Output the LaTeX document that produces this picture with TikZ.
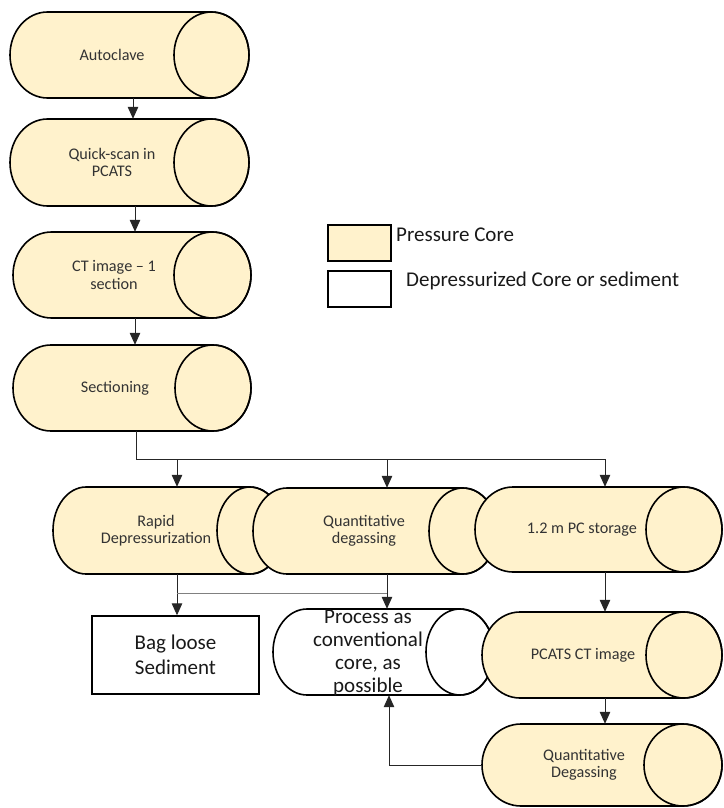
\documentclass[tikz,border=0pt]{standalone}
\usepackage{fontspec}
\setmainfont{Carlito}
\usetikzlibrary{arrows.meta}
\definecolor{core}{HTML}{FFF2CC}
\definecolor{inktext}{HTML}{333333}

\tikzset{
  cylline/.style={line width=1.6pt, draw=black},
  conn/.style={line width=1pt, draw=black!85},
  arr/.style={conn, -{Triangle[width=10.5pt,length=12pt]}},
  smalltext/.style={align=center, text=inktext, inner sep=0pt,
    font=\fontsize{16.2}{17.5}\selectfont},
  bigtext/.style={align=center, text=black!90, inner sep=0pt,
    font=\fontsize{21}{24}\selectfont},
}

% horizontal core cylinder: name, left, right, top, bottom, end radius, fill, text x, text
\newcommand\corecyl[9]{%
  \pgfmathsetmacro\cyA{#2+#6}%
  \pgfmathsetmacro\cyE{#3-#6}%
  \pgfmathsetmacro\cyM{(#4+#5)/2}%
  \pgfmathsetmacro\cyR{(#5-#4)/2}%
  \pgfmathsetmacro\cyW{#3-#2}%
  \pgfmathsetmacro\cyH{#5-#4}%
  \pgfmathsetmacro\cyC{(#2+#3)/2}%
  \filldraw[cylline, fill=#7] (\cyA,-#4) -- (\cyE,-#4)
    arc[start angle=90, end angle=-90, x radius=#6, y radius=\cyR]
    -- (\cyA,-#5)
    arc[start angle=270, end angle=90, x radius=#6, y radius=\cyR] -- cycle;
  \draw[cylline] (\cyE,-\cyM) ellipse[x radius=#6, y radius=\cyR];
  \node[inner sep=0pt, minimum width=\cyW pt, minimum height=\cyH pt] (#1) at (\cyC,-\cyM) {};
  \node[smalltext] (#1-label) at (#8,-\cyM) {#9};
}

\begin{document}
\begin{tikzpicture}[x=1pt, y=1pt]
\useasboundingbox (0,0) rectangle (723,-808);

% main column
\corecyl{ac}{10}{249}{12}{98}{37.5}{core}{112}{Autoclave}
\corecyl{qs}{10}{249}{119}{206}{37.5}{core}{112}{Quick-scan in\\PCATS}
\corecyl{ct}{13}{251}{232}{318}{38.5}{core}{114}{CT image -- 1\\section}
\corecyl{sec}{13}{251}{345}{431}{38}{core}{115}{Sectioning}

% branch row
\corecyl{rd}{53}{283}{487}{574}{33}{core}{156}{Rapid\\Depressurization}
\corecyl{qd}{253}{497}{488}{574}{34}{core}{364}{Quantitative\\degassing}
\corecyl{pcs}{475}{722}{487}{572}{38}{core}{582}{1.2 m PC storage}

% lower row
\corecyl{proc}{273}{494}{609}{695}{34}{white}{368}{}
\node[bigtext, font=\fontsize{21}{23}\selectfont] (proc-text) at (368,-653) {Process as\\conventional\\core, as\\possible};
\corecyl{pcat}{482}{722}{612}{698}{38}{core}{583}{PCATS CT image}
\corecyl{qdg}{482}{722}{724}{806}{39}{core}{584}{Quantitative\\Degassing}

\node[draw=black, line width=1.4pt, fill=white, minimum width=167pt, minimum height=78pt,
  inner sep=0pt] (bag) at (175.5,-655) {};
\node[bigtext, font=\fontsize{21}{25}\selectfont] (bag-text) at (175.5,-655) {Bag loose\\Sediment};

% legend
\node[draw=black, line width=1.4pt, fill=core, minimum width=63pt, minimum height=36pt,
  inner sep=0pt] (lg1) at (359.5,-243) {};
\node[draw=black, line width=1.4pt, fill=white, minimum width=63pt, minimum height=36pt,
  inner sep=0pt] (lg2) at (359.5,-289) {};
\node[bigtext, anchor=west] (lg1-text) at (396,-235) {Pressure Core};
\node[bigtext, anchor=west] (lg2-text) at (406,-281) {Depressurized Core or sediment};

% main column connectors
\draw[arr] ([xshift=3.5pt]ac.south) -- ([xshift=3.5pt]ac.south |- qs.north);
\draw[arr] ([xshift=5.5pt]qs.south) -- ([xshift=5.5pt]qs.south |- ct.north);
\draw[arr] ([xshift=3pt]ct.south) -- ([xshift=3pt]ct.south |- sec.north);

% split after sectioning
\coordinate (rdIn) at ([xshift=9pt]rd.north);
\coordinate (qdIn) at ([xshift=12pt]qd.north);
\coordinate (pcsIn) at ([xshift=6.5pt]pcs.north);
\coordinate (bus) at ([xshift=4pt]sec.south |- 0,-459);
\draw[conn] ([xshift=4pt]sec.south) -- (bus) -- (bus -| pcsIn);
\draw[arr] (bus -| rdIn) -- (rdIn);
\draw[arr] (bus -| qdIn) -- (qdIn);
\draw[arr] (bus -| pcsIn) -- (pcsIn);

% outputs of the branch row
\coordinate (rdOut) at ([xshift=9pt]rd.south);
\coordinate (qdOut) at ([xshift=12pt]qd.south);
\draw[arr] (rdOut) -- (rdOut |- bag.north);
\draw[arr] (qdOut) -- (qdOut |- proc.north);
\draw[line width=1pt, draw=black!50] (rdOut |- 0,-593) -- (qdOut |- 0,-593);

% storage path
\draw[arr] ([xshift=6.5pt]pcs.south) -- ([xshift=6.5pt]pcs.south |- pcat.north);
\draw[arr] ([xshift=3pt]pcat.south) -- ([xshift=3pt]pcat.south |- qdg.north);
\draw[arr] (qdg.west) -| ([xshift=5.5pt]proc.south);
\end{tikzpicture}
\end{document}
